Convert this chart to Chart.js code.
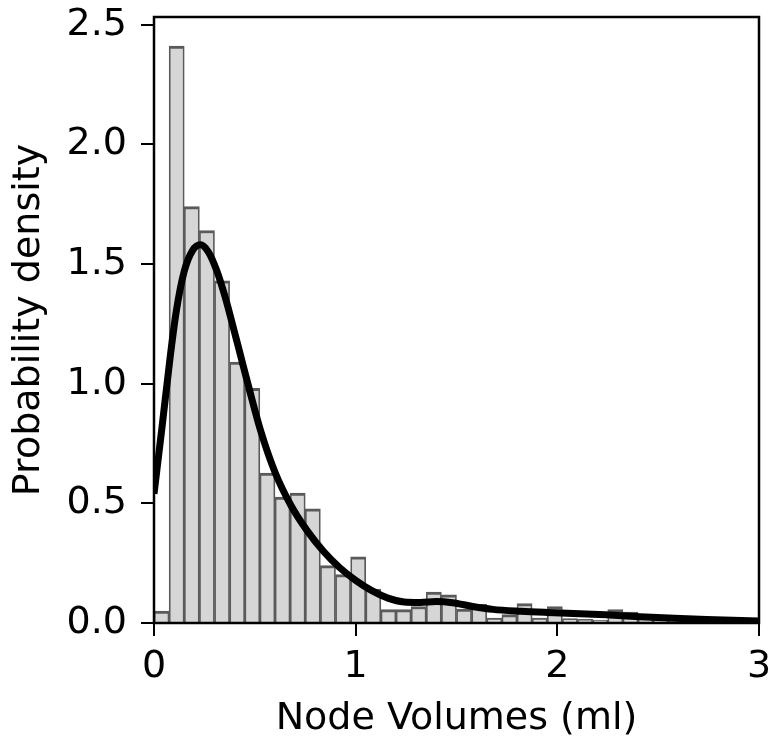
<!DOCTYPE html>
<html>
<head>
<meta charset="utf-8">
<script src="https://cdn.jsdelivr.net/npm/chart.js@4/dist/chart.umd.min.js"></script>
<style>
  html, body { margin: 0; padding: 0; background: #ffffff; }
  #wrap { width: 770px; height: 743px; }
</style>
</head>
<body>
<div id="wrap"><canvas id="c" width="770" height="743"></canvas></div>
<script>
// Histogram bin centres (ml) and densities
const binCenters = [0.0375, 0.1125, 0.1875, 0.2625, 0.3375, 0.4125, 0.4875, 0.5625, 0.6375, 0.7125,
  0.7875, 0.8625, 0.9375, 1.0125, 1.0875, 1.1625, 1.2375, 1.3125, 1.3875, 1.4625,
  1.5375, 1.6125, 1.6875, 1.7625, 1.8375, 1.9125, 1.9875, 2.0625, 2.1375, 2.2125,
  2.2875, 2.3625, 2.4375, 2.5125, 2.5875, 2.6625, 2.7375];
const densities = [0.05, 2.41, 1.74, 1.64, 1.43, 1.09, 0.98, 0.626, 0.526, 0.543,
  0.477, 0.24, 0.202, 0.276, 0.142, 0.056, 0.056, 0.069, 0.129, 0.118,
  0.058, 0.078, 0.021, 0.035, 0.081, 0.021, 0.069, 0.018, 0.015, 0.012,
  0.056, 0.046, 0.02, 0.015, 0.03, 0.01, 0.008];

// Kernel density estimate curve
const kdeX = [0, 0.04, 0.08, 0.11, 0.15, 0.19, 0.23, 0.27, 0.31, 0.35, 0.39, 0.43, 0.47, 0.53,
  0.60, 0.68, 0.76, 0.84, 0.92, 1.00, 1.08, 1.16, 1.24, 1.32, 1.40, 1.48, 1.58, 1.68,
  1.82, 1.95, 2.08, 2.24, 2.41, 2.58, 2.74, 3.0];
const kdeY = [0.54, 0.82, 1.11, 1.30, 1.47, 1.555, 1.58, 1.55, 1.475, 1.37, 1.245, 1.115, 0.985, 0.80,
  0.63, 0.49, 0.385, 0.30, 0.232, 0.178, 0.135, 0.104, 0.088, 0.086, 0.09, 0.085, 0.069, 0.057,
  0.049, 0.044, 0.040, 0.034, 0.026, 0.020, 0.015, 0.008];

const xTicks = [0, 1, 2, 3];
const xTickLabels = ['0', '1', '2', '3'];
const yTicks = [0, 0.5, 1, 1.5, 2, 2.5];
const yTickLabels = ['0.0', '0.5', '1.0', '1.5', '2.0', '2.5'];
const xTitle = 'Node Volumes (ml)';
const yTitle = 'Probability density';

const FONT = { family: '"DejaVu Sans", sans-serif', size: 38, lineHeight: 1.2 };

const framePlugin = {
  id: 'frame',
  afterDatasetsDraw(chart) {
    const { ctx, chartArea: a } = chart;
    ctx.save();
    ctx.strokeStyle = '#000000';
    ctx.lineWidth = 2.5;
    ctx.strokeRect(a.left, a.top, a.right - a.left, a.bottom - a.top);
    ctx.restore();
  }
};

new Chart(document.getElementById('c'), {
  type: 'bar',
  data: {
    datasets: [
      {
        type: 'line',
        order: 0,
        data: kdeX.map((x, i) => ({ x: x, y: kdeY[i] })),
        borderColor: '#000000',
        borderWidth: 7,
        pointRadius: 0,
        fill: false,
        cubicInterpolationMode: 'monotone',
        borderCapStyle: 'butt'
      },
      {
        type: 'bar',
        order: 1,
        data: binCenters.map((x, i) => ({ x: x, y: densities[i] })),
        backgroundColor: '#d6d6d6',
        borderColor: '#5a5a5a',
        borderWidth: { top: 3, left: 1.75, right: 1.75, bottom: 0 },
        borderSkipped: false,
        barPercentage: 1,
        categoryPercentage: 1
      }
    ]
  },
  options: {
    responsive: false,
    animation: false,
    devicePixelRatio: 1,
    layout: { padding: { left: 0, right: 11, top: 17, bottom: 0 } },
    plugins: { legend: { display: false }, tooltip: { enabled: false } },
    scales: {
      x: {
        type: 'linear',
        min: 0,
        max: 3,
        offset: false,
        afterBuildTicks(s) { s.ticks = xTicks.map(v => ({ value: v })); },
        afterFit(s) { s.height = 120; s.paddingLeft = 0; s.paddingRight = 0; },
        ticks: {
          font: FONT,
          color: '#000000',
          padding: 8,
          maxRotation: 0,
          autoSkip: false,
          callback: (v) => xTickLabels[xTicks.indexOf(v)]
        },
        grid: { display: true, drawOnChartArea: false, drawTicks: true, tickLength: 13, color: '#000000', lineWidth: 2, offset: false },
        border: { display: false },
        title: { display: true, text: xTitle, font: FONT, color: '#000000', padding: { top: 0, bottom: 1 } }
      },
      y: {
        type: 'linear',
        min: 0,
        max: 2.532,
        afterBuildTicks(s) { s.ticks = yTicks.map(v => ({ value: v })); },
        afterFit(s) { s.width = 154; s.paddingTop = 0; s.paddingBottom = 0; },
        ticks: {
          font: FONT,
          color: '#000000',
          padding: 14,
          autoSkip: false,
          callback: (v) => yTickLabels[yTicks.indexOf(v)]
        },
        grid: { display: true, drawOnChartArea: false, drawTicks: true, tickLength: 13, color: '#000000', lineWidth: 2 },
        border: { display: false },
        title: { display: true, text: yTitle, font: FONT, color: '#000000', padding: { top: 6, bottom: 0 } }
      }
    }
  },
  plugins: [framePlugin]
});
</script>
</body>
</html>
